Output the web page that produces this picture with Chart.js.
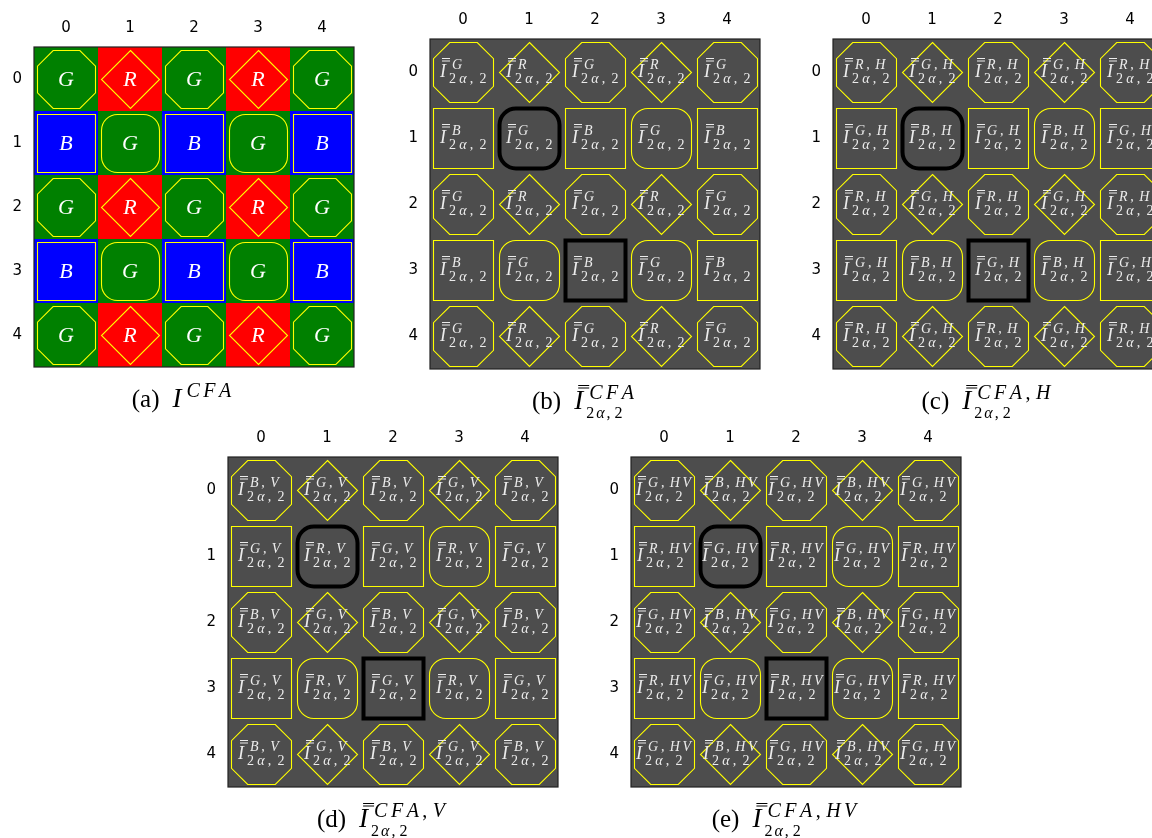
<!DOCTYPE html>
<html><head><meta charset="utf-8">
<script src="https://cdn.jsdelivr.net/npm/chart.js@4.4.1/dist/chart.umd.min.js"></script>
<style>
html,body{margin:0;padding:0;background:#fff;width:1152px;height:838px;overflow:hidden;position:relative}
.p{position:absolute}
canvas{display:block}
</style></head><body>
<div class="p" id="pa"><canvas id="ca"></canvas></div>
<div class="p" id="pb"><canvas id="cb"></canvas></div>
<div class="p" id="pc"><canvas id="cc"></canvas></div>
<div class="p" id="pd"><canvas id="cd"></canvas></div>
<div class="p" id="pe"><canvas id="ce"></canvas></div>
<script>
// ---------- data ----------
const tickLabels = ['0', '1', '2', '3', '4'];
const rowIdx = [0, 1, 2, 3, 4];
const colIdx = [0, 1, 2, 3, 4];
const shapeGrid = [
  ['oct', 'dia', 'oct', 'dia', 'oct'],
  ['sq', 'rnd', 'sq', 'rnd', 'sq'],
  ['oct', 'dia', 'oct', 'dia', 'oct'],
  ['sq', 'rnd', 'sq', 'rnd', 'sq'],
  ['oct', 'dia', 'oct', 'dia', 'oct']
];
const channelsA = [
  ['G', 'R', 'G', 'R', 'G'],
  ['B', 'G', 'B', 'G', 'B'],
  ['G', 'R', 'G', 'R', 'G'],
  ['B', 'G', 'B', 'G', 'B'],
  ['G', 'R', 'G', 'R', 'G']
];
const channelsB = channelsA;
const channelsC = [
  ['R', 'G', 'R', 'G', 'R'],
  ['G', 'B', 'G', 'B', 'G'],
  ['R', 'G', 'R', 'G', 'R'],
  ['G', 'B', 'G', 'B', 'G'],
  ['R', 'G', 'R', 'G', 'R']
];
const channelsD = [
  ['B', 'G', 'B', 'G', 'B'],
  ['G', 'R', 'G', 'R', 'G'],
  ['B', 'G', 'B', 'G', 'B'],
  ['G', 'R', 'G', 'R', 'G'],
  ['B', 'G', 'B', 'G', 'B']
];
const channelsE = [
  ['G', 'B', 'G', 'B', 'G'],
  ['R', 'G', 'R', 'G', 'R'],
  ['G', 'B', 'G', 'B', 'G'],
  ['R', 'G', 'R', 'G', 'R'],
  ['G', 'B', 'G', 'B', 'G']
];
const suffixB = '';
const suffixC = ',H';
const suffixD = ',V';
const suffixE = ',HV';
const highlightCells = [[1, 1], [3, 2]]; // [row, col]
const captionLetters = ['a', 'b', 'c', 'd', 'e'];
const captionSups = ['CFA', 'CFA', 'CFA,H', 'CFA,V', 'CFA,HV'];

// ---------- style ----------
const cfaColors = { G: '#008000', R: '#ff0000', B: '#0000ff' };
const GRAY = '#4d4d4d';
const EDGE = '#ffff00';
const CELL_TEXT = '#ececec';
const SERIF = '"Liberation Serif", "DejaVu Serif", serif';
const AX = 36;

const panels = [
  { id: 'a', left: 34, top: 47, cell: 64, colored: true, grid: channelsA, sfx: null, cap: 0 },
  { id: 'b', left: 430, top: 39, cell: 66, colored: false, grid: channelsB, sfx: suffixB, cap: 1, hl: true },
  { id: 'c', left: 833, top: 39, cell: 66, colored: false, grid: channelsC, sfx: suffixC, cap: 2, hl: true },
  { id: 'd', left: 228, top: 457, cell: 66, colored: false, grid: channelsD, sfx: suffixD, cap: 3, hl: true },
  { id: 'e', left: 631, top: 457, cell: 66, colored: false, grid: channelsE, sfx: suffixE, cap: 4, hl: true }
];

// ---------- helpers ----------
function partsOf(str, fItal, fUp) {
  return [...str].map(ch => ({ t: ch, f: (ch === ',' || /[0-9]/.test(ch)) ? fUp : fItal }));
}
function measureParts(ctx, parts, gap, commaExtra) {
  let w = 0;
  parts.forEach((p, i) => {
    ctx.font = p.f;
    w += ctx.measureText(p.t).width;
    if (i < parts.length - 1) w += gap + (p.t === ',' ? commaExtra : 0);
  });
  return w;
}
function drawParts(ctx, parts, x, y, gap, commaExtra) {
  parts.forEach((p, i) => {
    ctx.font = p.f;
    ctx.fillText(p.t, x, y);
    x += ctx.measureText(p.t).width + gap + (p.t === ',' ? commaExtra : 0);
  });
}
function shapePath(ctx, shape, cx, cy, h) {
  ctx.beginPath();
  if (shape === 'oct') {
    const k = h * 0.54;
    ctx.moveTo(cx - h + k, cy - h); ctx.lineTo(cx + h - k, cy - h);
    ctx.lineTo(cx + h, cy - h + k); ctx.lineTo(cx + h, cy + h - k);
    ctx.lineTo(cx + h - k, cy + h); ctx.lineTo(cx - h + k, cy + h);
    ctx.lineTo(cx - h, cy + h - k); ctx.lineTo(cx - h, cy - h + k);
    ctx.closePath();
  } else if (shape === 'dia') {
    ctx.moveTo(cx, cy - h); ctx.lineTo(cx + h, cy);
    ctx.lineTo(cx, cy + h); ctx.lineTo(cx - h, cy); ctx.closePath();
  } else if (shape === 'sq') {
    ctx.rect(cx - h, cy - h, 2 * h, 2 * h);
  } else {
    ctx.roundRect(cx - h, cy - h, 2 * h, 2 * h, h * 0.55);
  }
}
function drawBars(ctx, x1, x2, y, col) {
  ctx.strokeStyle = col; ctx.lineWidth = 1;
  ctx.beginPath();
  ctx.moveTo(x1, y + 0.5); ctx.lineTo(x2, y + 0.5);
  ctx.moveTo(x1, y + 3); ctx.lineTo(x2, y + 3);
  ctx.stroke();
}
function drawCellLabel(ctx, cx, cy, sup) {
  const fI = 'italic 18px ' + SERIF;
  const fS = 'italic 14px ' + SERIF;
  const fU = '14px ' + SERIF;
  const supParts = partsOf(sup, fS, fU);
  const subParts = [{ t: '2', f: fU }, { t: 'α', f: fS }, { t: ',', f: fU }, { t: '2', f: fU }];
  const sg = 2.8, sc = 2.5, bg = 3.2, bc = 3;
  const wSup = measureParts(ctx, supParts, sg, sc);
  const wSub = measureParts(ctx, subParts, bg, bc);
  const block = Math.max(12 + wSup, 9 + wSub);
  const x0 = Math.round(cx - block / 2);
  ctx.fillStyle = CELL_TEXT;
  ctx.font = fI;
  ctx.fillText('I', x0, cy + 5);
  drawBars(ctx, x0 + 2, x0 + 10, Math.round(cy - 14), CELL_TEXT);
  drawParts(ctx, supParts, x0 + 12, cy - 3, sg, sc);
  drawParts(ctx, subParts, x0 + 9, cy + 11, bg, bc);
}
function drawCaption(ctx, cx, base, idx) {
  const fP = '25px ' + SERIF;
  const fI = 'italic 27px ' + SERIF;
  const fS = 'italic 20px ' + SERIF;
  const fU = '20px ' + SERIF;
  const fSubI = 'italic 16px ' + SERIF;
  const fSubU = '16px ' + SERIF;
  const head = '(' + captionLetters[idx] + ')';
  const supParts = partsOf(captionSups[idx], fS, fU);
  const subParts = [{ t: '2', f: fSubU }, { t: 'α', f: fSubI }, { t: ',', f: fSubU }, { t: '2', f: fSubU }];
  const withSub = idx > 0;
  ctx.font = fP;
  const wHead = ctx.measureText(head).width;
  const wSup = measureParts(ctx, supParts, 3.5, 2);
  const wSub = withSub ? measureParts(ctx, subParts, 2, 2) : 0;
  const gapHead = 13;
  const total = wHead + gapHead + Math.max(15 + wSup, 12 + wSub);
  let x = cx - total / 2;
  ctx.fillStyle = '#000';
  ctx.textAlign = 'left';
  ctx.textBaseline = 'alphabetic';
  ctx.font = fP;
  ctx.fillText(head, x, base);
  x += wHead + gapHead;
  ctx.font = fI;
  ctx.fillText('I', x, base);
  if (withSub) {
    drawBars(ctx, x + 4, x + 15, base - 24, '#000');
    drawParts(ctx, supParts, x + 15, base - 10, 3.5, 2);
    drawParts(ctx, subParts, x + 12, base + 9, 2, 2);
  } else {
    drawParts(ctx, supParts, x + 14, base - 10, 3.5, 2);
  }
}

const cellPlugin = {
  id: 'cfaCells',
  beforeDatasetsDraw(chart, args, opts) {
    const { ctx, chartArea: a, scales: { x, y } } = chart;
    const meta = chart.getDatasetMeta(0);
    const ds = chart.data.datasets[0].data;
    const cw = Math.abs(x.getPixelForValue(1) - x.getPixelForValue(0));
    const chh = Math.abs(y.getPixelForValue(1) - y.getPixelForValue(0));
    ctx.save();
    if (opts.colored) {
      meta.data.forEach((el, i) => {
        ctx.fillStyle = cfaColors[ds[i].ch];
        ctx.fillRect(el.x - cw / 2, el.y - chh / 2, cw, chh);
      });
    } else {
      ctx.fillStyle = GRAY;
      ctx.fillRect(a.left, a.top, a.width, a.height);
    }
    ctx.restore();
  },
  afterDatasetsDraw(chart, args, opts) {
    const { ctx, chartArea: a, scales: { x } } = chart;
    const meta = chart.getDatasetMeta(0);
    const ds = chart.data.datasets[0].data;
    const cw = Math.abs(x.getPixelForValue(1) - x.getPixelForValue(0));
    const h = cw / 2 - 3;
    ctx.save();
    ctx.textBaseline = 'alphabetic';
    meta.data.forEach((el, i) => {
      const d = ds[i];
      const cx = el.x, cy = el.y;
      if (d.hl) {
        ctx.strokeStyle = '#000'; ctx.lineWidth = 4;
      } else {
        ctx.strokeStyle = EDGE; ctx.lineWidth = 1.1;
      }
      shapePath(ctx, d.shape, cx + 0.5, cy + 0.5, h);
      ctx.stroke();
      if (opts.colored) {
        ctx.fillStyle = '#ffffff';
        ctx.font = 'italic 22px ' + SERIF;
        ctx.textAlign = 'center';
        ctx.fillText(d.ch, cx, cy + 7);
        ctx.textAlign = 'left';
      } else {
        ctx.textAlign = 'left';
        drawCellLabel(ctx, cx, cy, d.ch + opts.sfx);
      }
    });
    ctx.strokeStyle = '#222';
    ctx.lineWidth = 1.2;
    ctx.strokeRect(a.left, a.top, a.width, a.height);
    drawCaption(ctx, (a.left + a.right) / 2 - 12, a.bottom + 40, opts.cap);
    ctx.restore();
  }
};

function buildPanel(p) {
  const padR = 4, capH = 62;
  const W = AX + 5 * p.cell + padR;
  const H = AX + 5 * p.cell + capH;
  const div = document.getElementById('p' + p.id);
  div.style.left = (p.left - AX) + 'px';
  div.style.top = (p.top - AX) + 'px';
  const cv = document.getElementById('c' + p.id);
  cv.width = W; cv.height = H;
  cv.style.width = W + 'px'; cv.style.height = H + 'px';
  const data = [];
  rowIdx.forEach(r => colIdx.forEach(c => {
    data.push({
      x: c, y: r, ch: p.grid[r][c], shape: shapeGrid[r][c],
      hl: !!p.hl && highlightCells.some(([hr, hc]) => hr === r && hc === c)
    });
  }));
  const tickFont = { family: 'DejaVu Sans', size: 15 };
  new Chart(cv, {
    type: 'scatter',
    data: { datasets: [{ data, pointRadius: 0, pointHoverRadius: 0 }] },
    options: {
      responsive: false, animation: false, events: [],
      layout: { padding: { left: 0, top: 0, right: padR, bottom: capH } },
      plugins: {
        legend: { display: false }, tooltip: { enabled: false },
        cfaCells: { colored: p.colored, sfx: p.sfx, cap: p.cap }
      },
      scales: {
        x: {
          type: 'linear', position: 'top', min: -0.5, max: 4.5,
          afterBuildTicks: s => { s.ticks = colIdx.map(v => ({ value: v })); },
          afterFit: s => { s.height = AX; },
          ticks: { callback: (v, i) => tickLabels[i], font: tickFont, color: '#000', padding: 10, autoSkip: false, maxRotation: 0 },
          grid: { display: false, drawTicks: false }, border: { display: false }
        },
        y: {
          type: 'linear', position: 'left', reverse: true, min: -0.5, max: 4.5,
          afterBuildTicks: s => { s.ticks = rowIdx.map(v => ({ value: v })); },
          afterFit: s => { s.width = AX; },
          ticks: { callback: (v, i) => tickLabels[i], font: tickFont, color: '#000', padding: 12, autoSkip: false },
          grid: { display: false, drawTicks: false }, border: { display: false }
        }
      }
    },
    plugins: [cellPlugin]
  });
}
panels.forEach(buildPanel);
</script>
</body></html>
